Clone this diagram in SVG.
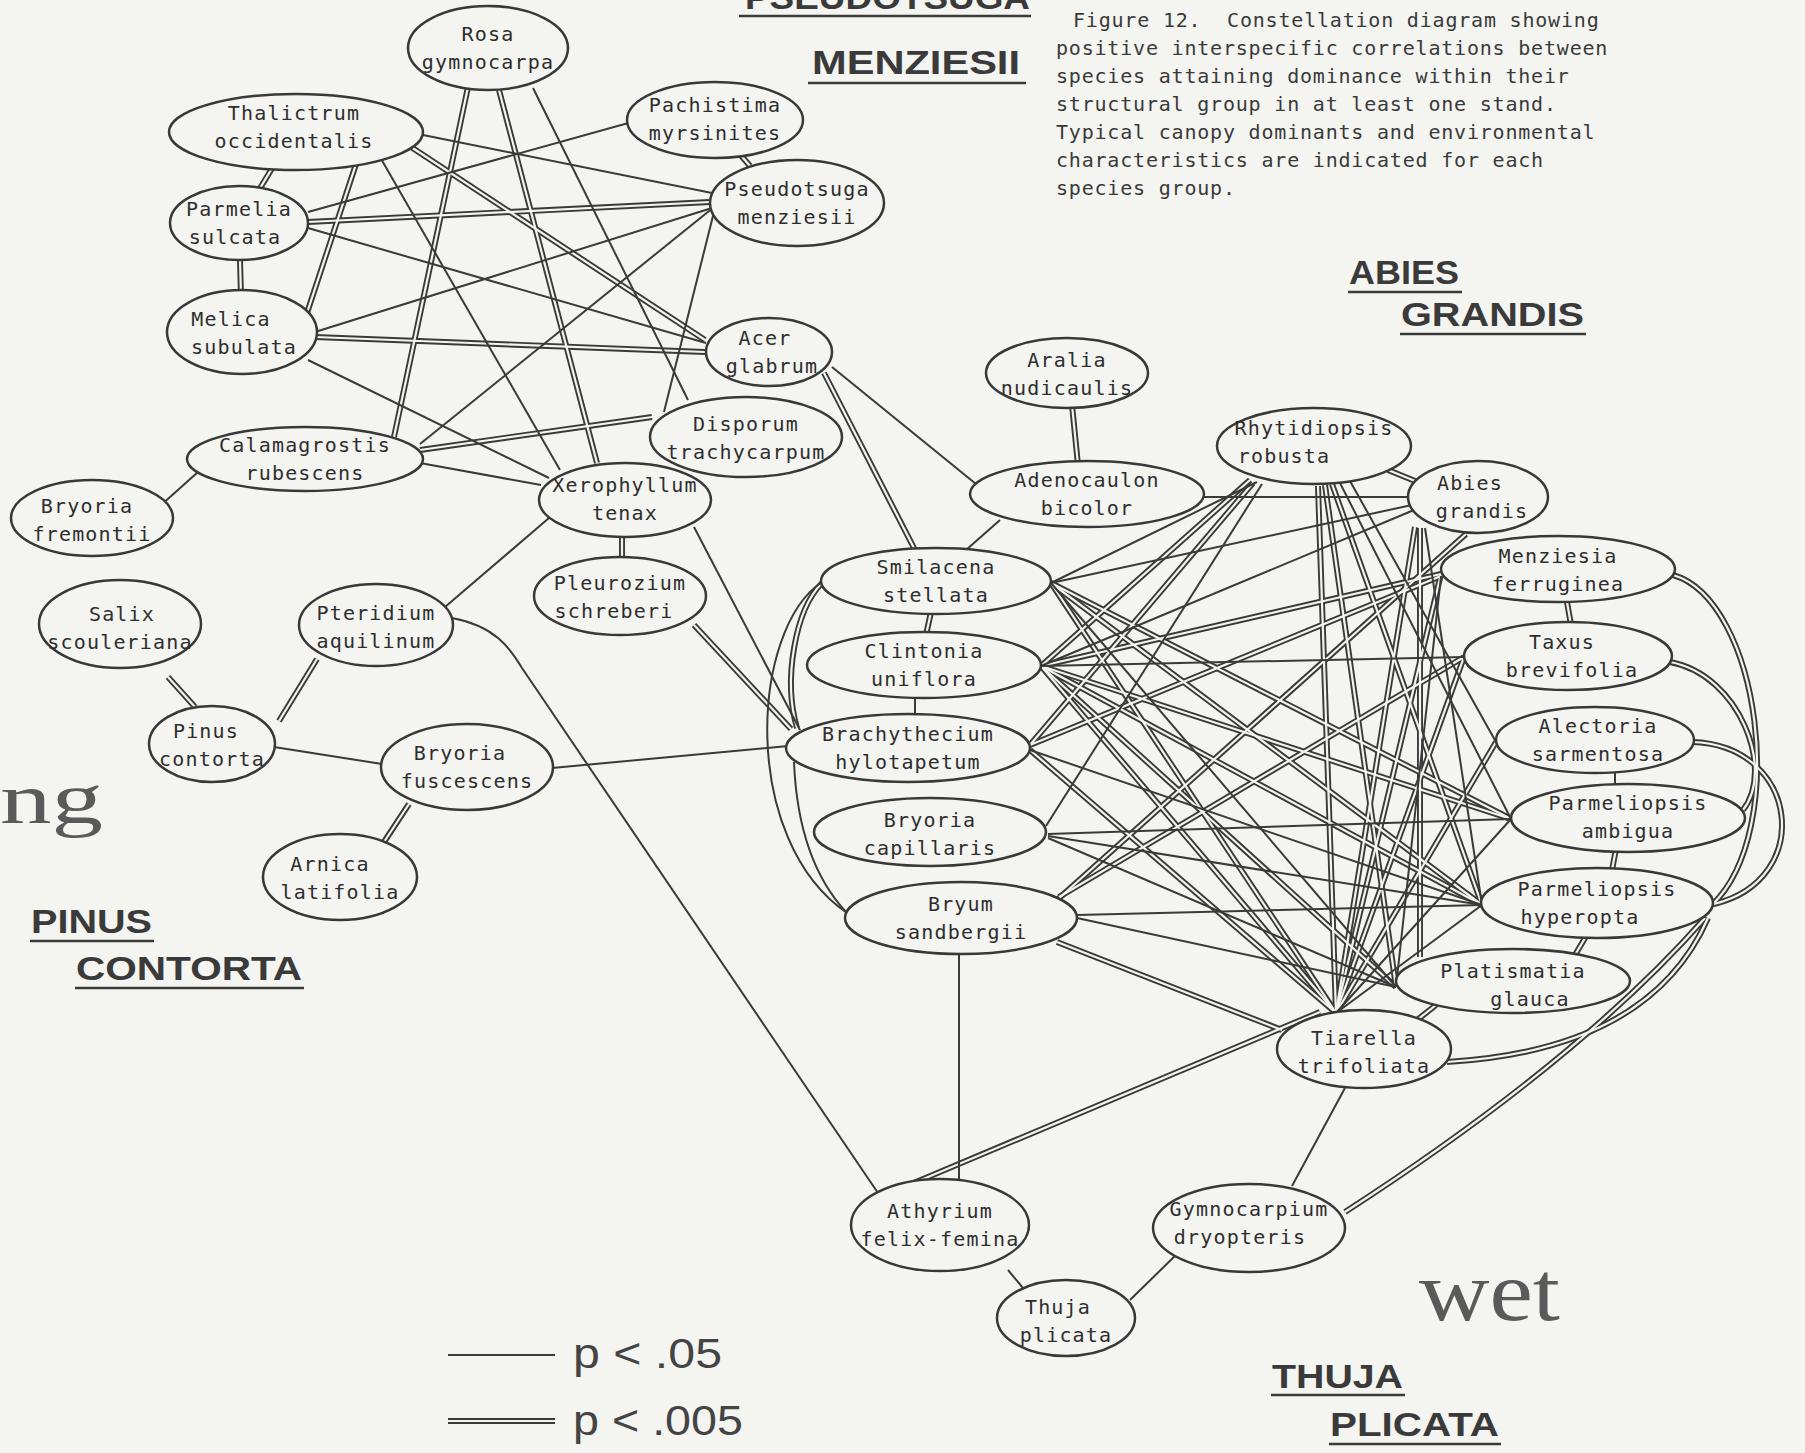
<svg xmlns="http://www.w3.org/2000/svg" xmlns:xlink="http://www.w3.org/1999/xlink" width="1805" height="1453" viewBox="0 0 1805 1453">
<style>
.bg{fill:#f4f4f1}
.node ellipse{fill:#f4f4f1;stroke:#383838;stroke-width:2.5}
.node text{font-family:"DejaVu Sans Mono",monospace;font-size:20px;letter-spacing:1.2px;fill:#2e2e2e;text-anchor:middle}
.sgl{fill:none;stroke:#3a3a3a;stroke-width:2}
.dbo{fill:none;stroke:#3a3a3a;stroke-width:6}
.dbi{fill:none;stroke:#f4f4f1;stroke-width:2.2}
.grp{font-family:"Liberation Sans",Arial,sans-serif;font-weight:bold;font-size:34px;fill:#3a3a3a}
.ul{stroke:#3a3a3a;stroke-width:2.6}
.cap{font-family:"DejaVu Sans Mono",monospace;font-size:20px;letter-spacing:0.8px;fill:#3a3a3a}
.big{font-family:"Liberation Serif",serif;fill:#5a5a5a}
.leg{font-family:"Liberation Sans Narrow","Liberation Sans",sans-serif;font-size:43px;fill:#444}
</style>
<defs>
<g id="dbl">
<path d="M294 132 L239 223"/>
<path d="M358 158 L306 316"/>
<path d="M239 223 L242 333"/>
<path d="M408 145 L705 340"/>
<path d="M308 222 L710 202"/>
<path d="M315 337 L705 352"/>
<path d="M468 87 L394 437"/>
<path d="M499 90 L597 463"/>
<path d="M738 152 L750 166"/>
<path d="M420 450 L652 417"/>
<path d="M824 373 L915 550"/>
<path d="M622 530 L622 562"/>
<path d="M694 625 L791 729"/>
<path d="M317 659 L279 721"/>
<path d="M168 677 L195 707"/>
<path d="M409 804 L382 845"/>
<path d="M1072 405 L1078 465"/>
<path d="M1388 470 L1420 483"/>
<path d="M931 612 L926 635"/>
<path d="M822 583 C795 610 783 680 797 728"/>
<path d="M1057 942 L1282 1030"/>
<path d="M909 1185 L1320 1012"/>
<path d="M1412 1024 L1436 1005"/>
<path d="M1572 960 L1588 933"/>
<path d="M1612 870 L1616 849"/>
<path d="M1567 602 L1571 625"/>
<path d="M1673 575 C1760 600 1790 830 1712 905"/>
<path d="M1670 662 C1740 675 1775 770 1743 810"/>
<path d="M1692 742 C1800 745 1815 880 1714 904"/>
<path d="M1447 1062 Q1650 1050 1708 918"/>
<path d="M1345 1212 Q1580 1060 1705 918"/>
<path d="M1051 583 L1511 819"/>
<path d="M1051 583 L1482 905"/>
<path d="M1051 583 L1336 1013"/>
<path d="M1041 666 L1250 480"/>
<path d="M1041 666 L1441 574"/>
<path d="M1041 666 L1511 819"/>
<path d="M1041 666 L1482 905"/>
<path d="M1041 666 L1396 987"/>
<path d="M1041 666 L1336 1013"/>
<path d="M1030 745 L1253 483"/>
<path d="M1030 745 L1441 576"/>
<path d="M1030 750 L1336 1013"/>
<path d="M1057 900 L1466 534"/>
<path d="M1059 897 L1464 657"/>
<path d="M1318 486 L1336 1013"/>
<path d="M1325 485 L1396 987"/>
<path d="M1332 484 L1482 905"/>
<path d="M1415 527 L1336 1013"/>
<path d="M1420 528 L1420 957"/>
<path d="M1441 574 L1336 1013"/>
<path d="M1464 657 L1336 1013"/>
<path d="M1496 742 L1336 1013"/>
</g>
</defs>
<rect class="bg" x="0" y="0" width="1805" height="1453"/>

<g id="connectors">
<use xlink:href="#dbl" href="#dbl" class="dbo"/>
<use xlink:href="#dbl" href="#dbl" class="dbi"/>
<g class="sgl">
<path d="M380 157 L560 470"/>
<path d="M418 134 L712 193"/>
<path d="M308 212 L632 122"/>
<path d="M308 228 L706 343"/>
<path d="M315 332 L712 208"/>
<path d="M308 360 L549 478"/>
<path d="M533 88 L688 400"/>
<path d="M714 207 L420 444"/>
<path d="M714 212 L664 412"/>
<path d="M420 463 L541 485"/>
<path d="M198 472 L160 506"/>
<path d="M832 367 L976 484"/>
<path d="M549 518 L445 607"/>
<path d="M694 527 L800 730"/>
<path d="M452 618 C495 626 510 648 522 668 L878 1193"/>
<path d="M274 747 L382 764"/>
<path d="M552 768 L788 746"/>
<path d="M1000 520 L966 550"/>
<path d="M1204 497 L1410 497"/>
<path d="M915 697 L915 716"/>
<path d="M794 762 Q798 860 846 912"/>
<path d="M822 582 C750 630 740 840 847 913"/>
<path d="M959 950 L959 1180"/>
<path d="M1008 1270 L1028 1294"/>
<path d="M1130 1300 L1178 1253"/>
<path d="M1292 1186 L1345 1088"/>
<path d="M1615 770 L1615 784"/>
<path d="M1051 583 L1257 482"/>
<path d="M1051 583 L1412 505"/>
<path d="M1051 583 L1396 987"/>
<path d="M1041 666 L1464 657"/>
<path d="M1041 666 L1414 510"/>
<path d="M1030 750 L1482 905"/>
<path d="M1046 826 L1262 484"/>
<path d="M1048 834 L1511 819"/>
<path d="M1048 836 L1482 905"/>
<path d="M1048 838 L1396 987"/>
<path d="M1077 915 L1482 905"/>
<path d="M1077 918 L1396 987"/>
<path d="M1340 483 L1511 819"/>
<path d="M1350 481 L1496 742"/>
<path d="M1425 528 L1482 905"/>
<path d="M1441 576 L1396 987"/>
<path d="M1511 819 L1336 1013"/>
<path d="M1482 905 L1336 1013"/>
</g>
</g>

<g id="nodes">
<g id="n-rosa" class="node"><ellipse cx="488" cy="48" rx="80" ry="42"/><text x="488" y="41">Rosa</text><text x="488" y="69">gymnocarpa</text></g>
<g id="n-thal" class="node"><ellipse cx="296" cy="132" rx="127" ry="38"/><text x="294" y="120">Thalictrum</text><text x="294" y="148">occidentalis</text></g>
<g id="n-pach" class="node"><ellipse cx="715" cy="120" rx="88" ry="38"/><text x="715" y="112">Pachistima</text><text x="715" y="140">myrsinites</text></g>
<g id="n-pseu" class="node"><ellipse cx="797" cy="203" rx="87" ry="43"/><text x="797" y="196">Pseudotsuga</text><text x="797" y="224">menziesii</text></g>
<g id="n-parm" class="node"><ellipse cx="239" cy="223" rx="69" ry="37"/><text x="239" y="216">Parmelia</text><text x="235" y="244">sulcata</text></g>
<g id="n-meli" class="node"><ellipse cx="242" cy="332" rx="75" ry="42"/><text x="231" y="326">Melica</text><text x="244" y="354">subulata</text></g>
<g id="n-acer" class="node"><ellipse cx="769" cy="352" rx="63" ry="34"/><text x="765" y="345">Acer</text><text x="772" y="373">glabrum</text></g>
<g id="n-disp" class="node"><ellipse cx="746" cy="437" rx="96" ry="40"/><text x="746" y="431">Disporum</text><text x="746" y="459">trachycarpum</text></g>
<g id="n-cala" class="node"><ellipse cx="305" cy="459" rx="118" ry="32"/><text x="305" y="452">Calamagrostis</text><text x="305" y="480">rubescens</text></g>
<g id="n-bfre" class="node"><ellipse cx="92" cy="518" rx="81" ry="38"/><text x="87" y="513">Bryoria</text><text x="92" y="541">fremontii</text></g>
<g id="n-xero" class="node"><ellipse cx="625" cy="500" rx="86" ry="37"/><text x="625" y="492">Xerophyllum</text><text x="625" y="520">tenax</text></g>
<g id="n-pleu" class="node"><ellipse cx="620" cy="596" rx="86" ry="39"/><text x="620" y="590">Pleurozium</text><text x="614" y="618">schreberi</text></g>
<g id="n-aral" class="node"><ellipse cx="1067" cy="373" rx="81" ry="35"/><text x="1067" y="367">Aralia</text><text x="1067" y="395">nudicaulis</text></g>
<g id="n-aden" class="node"><ellipse cx="1087" cy="494" rx="117" ry="33"/><text x="1087" y="487">Adenocaulon</text><text x="1087" y="515">bicolor</text></g>
<g id="n-rhyt" class="node"><ellipse cx="1314" cy="446" rx="97" ry="38"/><text x="1314" y="435">Rhytidiopsis</text><text x="1284" y="463">robusta</text></g>
<g id="n-abie" class="node"><ellipse cx="1478" cy="497" rx="70" ry="36"/><text x="1470" y="490">Abies</text><text x="1482" y="518">grandis</text></g>
<g id="n-smil" class="node"><ellipse cx="936" cy="581" rx="115" ry="33"/><text x="936" y="574">Smilacena</text><text x="936" y="602">stellata</text></g>
<g id="n-clin" class="node"><ellipse cx="924" cy="665" rx="117" ry="33"/><text x="924" y="658">Clintonia</text><text x="924" y="686">uniflora</text></g>
<g id="n-brac" class="node"><ellipse cx="908" cy="748" rx="122" ry="34"/><text x="908" y="741">Brachythecium</text><text x="908" y="769">hylotapetum</text></g>
<g id="n-bcap" class="node"><ellipse cx="930" cy="832" rx="116" ry="34"/><text x="930" y="827">Bryoria</text><text x="930" y="855">capillaris</text></g>
<g id="n-bryu" class="node"><ellipse cx="961" cy="918" rx="116" ry="36"/><text x="961" y="911">Bryum</text><text x="961" y="939">sandbergii</text></g>
<g id="n-menz" class="node"><ellipse cx="1558" cy="569" rx="117" ry="33"/><text x="1558" y="563">Menziesia</text><text x="1558" y="591">ferruginea</text></g>
<g id="n-taxu" class="node"><ellipse cx="1568" cy="656" rx="104" ry="34"/><text x="1562" y="649">Taxus</text><text x="1572" y="677">brevifolia</text></g>
<g id="n-alec" class="node"><ellipse cx="1595" cy="740" rx="99" ry="33"/><text x="1598" y="733">Alectoria</text><text x="1598" y="761">sarmentosa</text></g>
<g id="n-pamb" class="node"><ellipse cx="1628" cy="818" rx="117" ry="34"/><text x="1628" y="810">Parmeliopsis</text><text x="1628" y="838">ambigua</text></g>
<g id="n-phyp" class="node"><ellipse cx="1597" cy="903" rx="116" ry="35"/><text x="1597" y="896">Parmeliopsis</text><text x="1580" y="924">hyperopta</text></g>
<g id="n-plat" class="node"><ellipse cx="1513" cy="981" rx="117" ry="32"/><text x="1513" y="978">Platismatia</text><text x="1530" y="1006">glauca</text></g>
<g id="n-tiar" class="node"><ellipse cx="1364" cy="1049" rx="87" ry="39"/><text x="1364" y="1045">Tiarella</text><text x="1364" y="1073">trifoliata</text></g>
<g id="n-gymn" class="node"><ellipse cx="1249" cy="1228" rx="96" ry="44"/><text x="1249" y="1216">Gymnocarpium</text><text x="1240" y="1244">dryopteris</text></g>
<g id="n-athy" class="node"><ellipse cx="940" cy="1225" rx="89" ry="46"/><text x="940" y="1218">Athyrium</text><text x="940" y="1246">felix-femina</text></g>
<g id="n-thuj" class="node"><ellipse cx="1066" cy="1318" rx="69" ry="38"/><text x="1058" y="1314">Thuja</text><text x="1066" y="1342">plicata</text></g>
<g id="n-sali" class="node"><ellipse cx="120" cy="624" rx="81" ry="44"/><text x="122" y="621">Salix</text><text x="120" y="649">scouleriana</text></g>
<g id="n-pter" class="node"><ellipse cx="376" cy="625" rx="77" ry="41"/><text x="376" y="620">Pteridium</text><text x="376" y="648">aquilinum</text></g>
<g id="n-pinu" class="node"><ellipse cx="212" cy="744" rx="63" ry="38"/><text x="206" y="738">Pinus</text><text x="212" y="766">contorta</text></g>
<g id="n-bfus" class="node"><ellipse cx="467" cy="767" rx="86" ry="43"/><text x="460" y="760">Bryoria</text><text x="467" y="788">fuscescens</text></g>
<g id="n-arni" class="node"><ellipse cx="340" cy="877" rx="77" ry="43"/><text x="330" y="871">Arnica</text><text x="340" y="899">latifolia</text></g>
</g>

<g id="group-labels">
<text class="grp" x="745" y="9" textLength="285" lengthAdjust="spacingAndGlyphs">PSEUDOTSUGA</text>
<line class="ul" x1="739" y1="16" x2="1031" y2="16"/>
<text class="grp" x="812" y="74" textLength="208" lengthAdjust="spacingAndGlyphs">MENZIESII</text>
<line class="ul" x1="808" y1="83" x2="1026" y2="83"/>
<text class="grp" x="1349" y="284" textLength="110" lengthAdjust="spacingAndGlyphs">ABIES</text>
<line class="ul" x1="1348" y1="292" x2="1462" y2="292"/>
<text class="grp" x="1401" y="326" textLength="183" lengthAdjust="spacingAndGlyphs">GRANDIS</text>
<line class="ul" x1="1400" y1="334" x2="1586" y2="334"/>
<text class="grp" x="31" y="933" textLength="121" lengthAdjust="spacingAndGlyphs">PINUS</text>
<line class="ul" x1="30" y1="941" x2="154" y2="941"/>
<text class="grp" x="76" y="980" textLength="226" lengthAdjust="spacingAndGlyphs">CONTORTA</text>
<line class="ul" x1="75" y1="988" x2="304" y2="988"/>
<text class="grp" x="1272" y="1388" textLength="131" lengthAdjust="spacingAndGlyphs">THUJA</text>
<line class="ul" x1="1271" y1="1395" x2="1405" y2="1395"/>
<text class="grp" x="1330" y="1436" textLength="169" lengthAdjust="spacingAndGlyphs">PLICATA</text>
<line class="ul" x1="1329" y1="1444" x2="1501" y2="1444"/>
</g>

<g id="gradient-labels">
<text class="big" x="0" y="823" font-size="72" textLength="103" lengthAdjust="spacingAndGlyphs">ng</text>
<text class="big" x="1419" y="1320" font-size="84" textLength="141" lengthAdjust="spacingAndGlyphs">wet</text>
</g>

<g id="caption" class="cap">
<text x="1073" y="27" xml:space="preserve">Figure 12.  Constellation diagram showing</text>
<text x="1056" y="55">positive interspecific correlations between</text>
<text x="1056" y="83">species attaining dominance within their</text>
<text x="1056" y="111">structural group in at least one stand.</text>
<text x="1056" y="139">Typical canopy dominants and environmental</text>
<text x="1056" y="167">characteristics are indicated for each</text>
<text x="1056" y="195">species group.</text>
</g>

<g id="legend">
<path class="sgl" d="M448 1355 L555 1355"/>
<path class="dbo" d="M448 1421 L555 1421"/>
<path class="dbi" d="M448 1421 L555 1421"/>
<text class="leg" x="573" y="1368" textLength="149" lengthAdjust="spacingAndGlyphs">p &lt; .05</text>
<text class="leg" x="573" y="1435" textLength="170" lengthAdjust="spacingAndGlyphs">p &lt; .005</text>
</g>
</svg>
